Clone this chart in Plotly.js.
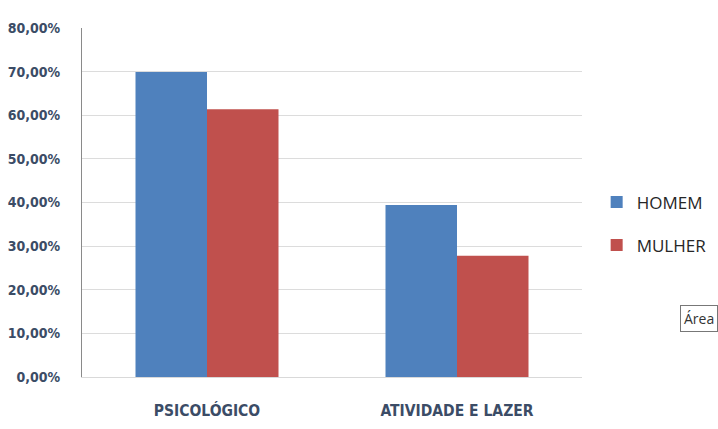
<!DOCTYPE html>
<html><head><meta charset="utf-8">
<script src="https://cdn.plot.ly/plotly-3.0.1.min.js"></script>
<style>html,body{margin:0;padding:0;background:#fff;}#chart{width:718px;height:429px;}</style>
</head><body><div id="chart"></div>
<script>
const categories = ["PSICOLÓGICO", "ATIVIDADE E LAZER"];
const homem = [69.9, 39.4];
const mulher = [61.4, 27.8];
const tickVals = [0, 10, 20, 30, 40, 50, 60, 70, 80];
const tickText = ["0,00%", "10,00%", "20,00%", "30,00%", "40,00%", "50,00%", "60,00%", "70,00%", "80,00%"];

const yFont = {family: "DejaVu Sans Condensed, Roboto Condensed, Roboto, sans-serif", size: 14, color: "#3b4c66", weight: "bold"};
const xFont = {family: "DejaVu Sans Condensed, Roboto Condensed, Roboto, sans-serif", size: 15.5, color: "#3b4c66", weight: "bold"};

const traces = [
  {type: "bar", name: "HOMEM", x: categories, y: homem, marker: {color: "#4f81bd"}, legendgroup: "a", hoverinfo: "none"},
  {type: "bar", name: "MULHER", x: categories, y: mulher, marker: {color: "#c0504d"}, legendgroup: "b", hoverinfo: "none"}
];

const layout = {
  width: 718, height: 429,
  margin: {l: 82, r: 136, t: 28, b: 52},
  paper_bgcolor: "#ffffff", plot_bgcolor: "#ffffff",
  barmode: "group", bargap: 0.428, bargroupgap: 0,
  xaxis: {
    showgrid: false, showline: true, linecolor: "#d9d9d9", linewidth: 1,
    ticks: "", tickfont: xFont, ticklabelstandoff: 19, fixedrange: true
  },
  yaxis: {
    range: [0, 80], tickvals: tickVals, ticktext: tickText,
    showgrid: true, gridcolor: "#dcdcdc", gridwidth: 1,
    showline: true, linecolor: "#8a8a8a", linewidth: 1,
    zeroline: false, ticks: "", tickfont: yFont, ticklabelstandoff: 18, fixedrange: true
  },
  showlegend: true,
  legend: {
    xref: "container", yref: "container",
    x: 0.831, xanchor: "left", y: 0.478, yanchor: "middle",
    font: {family: "Open Sans, Noto Sans, sans-serif", size: 17, color: "#262626"},
    tracegroupgap: 18, bgcolor: "rgba(0,0,0,0)"
  },
  annotations: [{
    xref: "paper", yref: "paper", x: 1.196, y: 0.167, xanchor: "left", yanchor: "middle",
    text: "Área", showarrow: false,
    font: {family: "Open Sans, Noto Sans, sans-serif", size: 14, color: "#333"},
    bordercolor: "#777", borderwidth: 1, borderpad: 3, bgcolor: "#ffffff"
  }]
};

Plotly.newPlot("chart", traces, layout, {displayModeBar: false, staticPlot: true});
</script></body></html>
